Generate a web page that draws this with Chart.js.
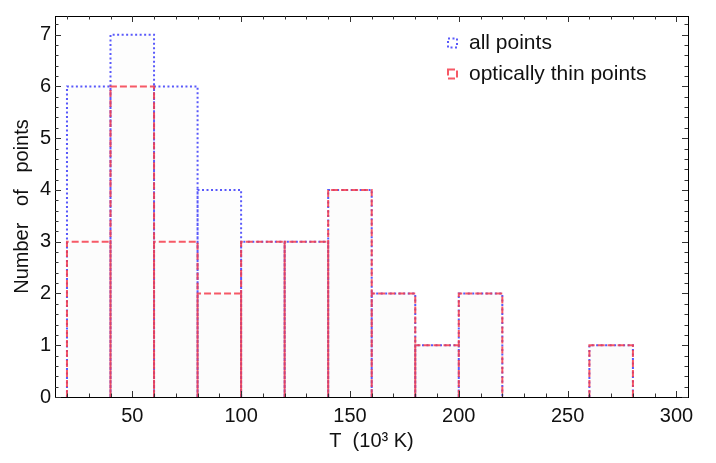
<!DOCTYPE html>
<html>
<head>
<meta charset="utf-8">
<title>Temperature histogram</title>
<script src="https://cdn.jsdelivr.net/npm/chart.js@4.4.1/dist/chart.umd.min.js"></script>
<style>
  html, body { margin: 0; padding: 0; background: #fff; }
  #wrap { width: 716px; height: 463px; }
</style>
</head>
<body>
<div id="wrap"><canvas id="hist" width="716" height="463"></canvas></div>
<script>
// bin edges (10^3 K) and counts per bin
const binEdges = [20, 40, 60, 80, 100, 120, 140, 160, 180, 200, 220, 240, 260, 280];
const allCounts = [6, 7, 6, 4, 3, 3, 4, 2, 1, 2, 0, 0, 1];
const thinCounts = [3, 6, 3, 2, 3, 3, 4, 2, 1, 2, 0, 0, 1];

// axis ticks
const xTickLabels = [50, 100, 150, 200, 250, 300];
const yTickLabels = [0, 1, 2, 3, 4, 5, 6, 7];
const xRange = [14.5, 305.3];
const yRange = [0, 7.36];

const FONT = '"Liberation Sans", Arial, sans-serif';

// outline of every non-empty bin: up, across, down, then a break
function binOutline(counts) {
    const pts = [];
    counts.forEach((c, i) => {
        if (!c) return;
        const lo = binEdges[i], hi = binEdges[i + 1];
        pts.push({x: lo, y: 0}, {x: lo, y: c}, {x: hi, y: c}, {x: hi, y: 0}, {x: hi, y: null});
    });
    return pts;
}

// frame with inward ticks on all four sides
const framePlugin = {
    id: 'frame',
    afterDraw(chart) {
        const {ctx, chartArea: a, scales} = chart;
        const xs = scales.x, ys = scales.y;
        ctx.save();
        ctx.strokeStyle = '#000';
        ctx.lineWidth = 1;
        ctx.strokeRect(Math.round(a.left) + 0.5, Math.round(a.top) + 0.5,
            Math.round(a.right - a.left), Math.round(a.bottom - a.top));

        ctx.strokeStyle = '#333';
        ctx.beginPath();
        for (let v = 20; v <= 300; v += 10) {
            const px = Math.round(xs.getPixelForValue(v)) + 0.5;
            const len = v % 50 === 0 ? 6 : 3.5;
            ctx.moveTo(px, a.bottom); ctx.lineTo(px, a.bottom - len);
            ctx.moveTo(px, a.top); ctx.lineTo(px, a.top + len);
        }
        for (let k = 0; k <= 36; k++) {
            const v = k / 5;
            if (v > yRange[1]) break;
            const py = Math.round(ys.getPixelForValue(v)) + 0.5;
            const len = k % 5 === 0 ? 6 : 3.5;
            ctx.moveTo(a.left, py); ctx.lineTo(a.left + len, py);
            ctx.moveTo(a.right, py); ctx.lineTo(a.right - len, py);
        }
        ctx.stroke();

        // legend in the upper right of the plot
        const items = chart.data.datasets;
        items.forEach((ds, i) => {
            const cy = 43 + i * 31;
            ctx.setLineDash(ds.borderDash);
            ctx.strokeStyle = ds.borderColor;
            ctx.lineWidth = 2;
            ctx.strokeRect(448, cy - 4.5, 9, 9);
            ctx.setLineDash([]);
            ctx.fillStyle = '#111';
            ctx.font = '21px ' + FONT;
            ctx.textBaseline = 'middle';
            ctx.fillText(ds.label, 469, cy);
        });
        ctx.restore();
    }
};

new Chart(document.getElementById('hist'), {
    type: 'line',
    data: {
        datasets: [
            {
                label: 'all points',
                data: binOutline(allCounts),
                borderColor: 'rgba(80, 80, 250, 0.95)',
                borderWidth: 2,
                borderDash: [2, 2.5],
                backgroundColor: 'rgba(0, 0, 0, 0.006)',
                fill: 'origin',
                order: 1
            },
            {
                label: 'optically thin points',
                data: binOutline(thinCounts),
                borderColor: 'rgba(245, 60, 75, 0.85)',
                borderWidth: 2,
                borderDash: [7, 3],
                backgroundColor: 'rgba(0, 0, 0, 0.006)',
                fill: 'origin',
                order: 0
            }
        ]
    },
    options: {
        responsive: false,
        animation: false,
        spanGaps: false,
        layout: { padding: { left: 0, right: 28, top: 5, bottom: 0 } },
        elements: { point: { radius: 0 }, line: { tension: 0 } },
        plugins: { legend: { display: false }, tooltip: { enabled: false } },
        scales: {
            x: {
                type: 'linear',
                min: xRange[0],
                max: xRange[1],
                grid: { display: false, drawTicks: false },
                border: { display: false },
                afterBuildTicks: s => { s.ticks = xTickLabels.map(v => ({value: v})); },
                afterFit: s => { s.height = 66; },
                ticks: { color: '#111', padding: 7, maxRotation: 0, font: { family: FONT, size: 20 } },
                title: {
                    display: true,
                    text: 'T  (10\u00B3 K)',
                    color: '#111',
                    padding: { top: 0, bottom: 10 },
                    font: { family: FONT, size: 20 }
                }
            },
            y: {
                min: yRange[0],
                max: yRange[1],
                grid: { display: false, drawTicks: false },
                border: { display: false },
                afterBuildTicks: s => { s.ticks = yTickLabels.map(v => ({value: v})); },
                afterFit: s => { s.width = 55; },
                ticks: { color: '#111', padding: 4, font: { family: FONT, size: 20 } },
                title: {
                    display: true,
                    text: 'Number   of   points',
                    color: '#111',
                    padding: { top: 10, bottom: 0 },
                    font: { family: FONT, size: 20 }
                }
            }
        }
    },
    plugins: [framePlugin]
});
</script>
</body>
</html>
